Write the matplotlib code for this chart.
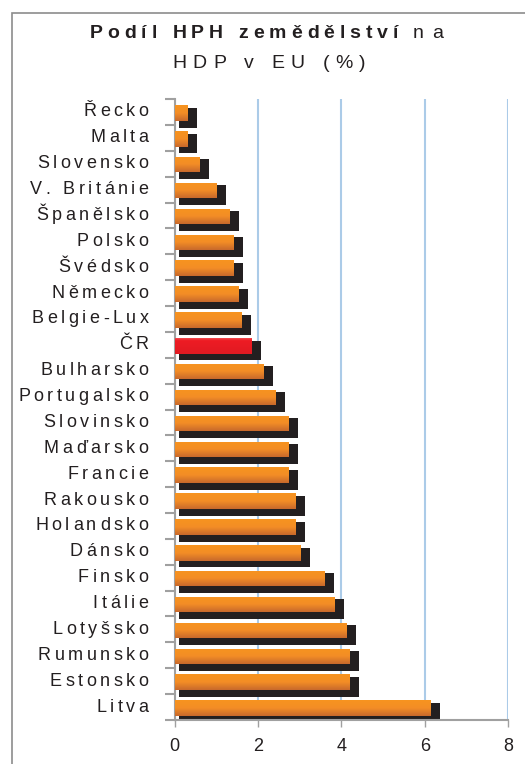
import numpy as np
import matplotlib.pyplot as plt
from matplotlib.colors import LinearSegmentedColormap
from matplotlib.patches import Rectangle
from matplotlib.transforms import offset_copy
from matplotlib.font_manager import FontProperties

# -----------------------------------------------------
# DATA
# -----------------------------------------------------
countries = ["Řecko", "Malta", "Slovensko", "V. Británie", "Španělsko", "Polsko",
             "Švédsko", "Německo", "Belgie-Lux", "ČR", "Bulharsko", "Portugalsko",
             "Slovinsko", "Maďarsko", "Francie", "Rakousko", "Holandsko", "Dánsko",
             "Finsko", "Itálie", "Lotyšsko", "Rumunsko", "Estonsko", "Litva"]
shares = [0.29, 0.29, 0.58, 0.99, 1.30, 1.40, 1.40, 1.52, 1.60, 1.84, 2.12, 2.41,
          2.72, 2.72, 2.72, 2.89, 2.89, 3.00, 3.58, 3.82, 4.11, 4.18, 4.18, 6.12]
highlight = "ČR"
x_ticks = [0, 2, 4, 6, 8]

plt.rcParams["font.family"] = ["Liberation Sans", "DejaVu Sans"]
TXT = "#231f20"

fig = plt.figure(figsize=(5.25, 7.64), dpi=100)
ax = fig.add_axes([0.3324, 0.0576, 0.6356, 0.8128])
renderer = fig.canvas.get_renderer()


# draw text with extra letter spacing (old Excel chart look)
def spaced_text(x, y, s, transform, ha="left", spacing=4.0, **kw):
    fp = FontProperties(family=plt.rcParams["font.family"],
                        size=kw.get("fontsize", 12),
                        weight=kw.get("fontweight", "normal"))
    widths = []
    for ch in s:
        if ch == " ":
            w = renderer.get_text_width_height_descent("a", fp, ismath=False)[0] * 0.55
        else:
            w = renderer.get_text_width_height_descent(ch, fp, ismath=False)[0]
        widths.append(w)
    total = sum(widths) + spacing * (len(s) - 1)
    off = {"left": 0, "center": -total / 2, "right": -total}[ha]
    for ch, w in zip(s, widths):
        tr = offset_copy(transform, fig=fig, x=off * 72 / fig.dpi, y=0, units="points")
        fig.text(x, y, ch, transform=tr, ha="left", va="center", color=TXT, **kw)
        off += w + spacing


# outer chart frame (only left/top edge visible in the crop)
fig.add_artist(Rectangle((12 / 525, -0.05), 1.2, 1.05 - 13 / 764,
                         transform=fig.transFigure, fill=False,
                         edgecolor="#8c8c8c", linewidth=1.2, zorder=0))

orange_cmap = LinearSegmentedColormap.from_list(
    "org", [(0, "#f7941f"), (0.5, "#f38d26"), (1, "#c8692c")])
red_cmap = LinearSegmentedColormap.from_list(
    "red", [(0, "#f04a4f"), (0.15, "#ed1c24"), (1, "#e01a22")])
grad = np.linspace(0, 1, 64).reshape(-1, 1)

pos = np.arange(len(countries))
for i, (name, v) in enumerate(zip(countries, shares)):
    # black shadow behind each bar
    ax.barh(i + 0.22, v + 0.24 - 0.1, left=0.1, height=0.77,
            color="#231f20", zorder=2)
    bar = ax.barh(i + 0.04, v, left=0, height=0.6, color="none", zorder=3)[0]
    cm = red_cmap if name == highlight else orange_cmap
    im = ax.imshow(grad, cmap=cm, aspect="auto", zorder=3,
                   extent=(0, v, i + 0.04 + 0.3, i + 0.04 - 0.3))
    im.set_clip_path(bar)

ax.set_xlim(0, 8)
ax.set_ylim(len(countries) - 0.5, -0.5)

# category labels drawn by hand for the letter spacing
ax.set_yticks(pos)
ax.set_yticklabels([])
ax.set_yticks(np.arange(len(countries) + 1) - 0.5, minor=True)
ax.tick_params(axis="y", which="major", length=0)
ax.tick_params(axis="y", which="minor", length=7, width=1.5, color="#a0a0a0")
ytr = offset_copy(ax.get_yaxis_transform(), fig=fig, x=-26 * 0.72, y=0, units="points")
for i, name in enumerate(countries):
    spaced_text(0, i, name, ytr, ha="right", spacing=3.5, fontsize=13)

ax.set_xticks(x_ticks)
ax.set_xticklabels([str(t) for t in x_ticks], fontsize=13, color=TXT)
ax.tick_params(axis="x", length=5, width=1, color="#a0a0a0", pad=8)

ax.grid(axis="x", color="#abcbe8", linewidth=1.5, zorder=0)
ax.set_axisbelow(True)
for s in ["top", "right"]:
    ax.spines[s].set_visible(False)
for s in ["left", "bottom"]:
    ax.spines[s].set_color("#a0a0a0")
    ax.spines[s].set_linewidth(1.5)

# title: bold part + normal part, widely spaced
spaced_text(398 / 525, 1 - 33 / 764, "Podíl HPH zemědělství", fig.transFigure,
            ha="right", spacing=4.9, fontsize=14, fontweight="bold")
spaced_text(413 / 525, 1 - 33 / 764, "na", fig.transFigure,
            ha="left", spacing=8.0, fontsize=14)
spaced_text(269 / 525, 1 - 63 / 764, "HDP v EU (%)", fig.transFigure,
            ha="center", spacing=6.0, fontsize=14)

plt.savefig("out.png", dpi=100)
plt.close()
